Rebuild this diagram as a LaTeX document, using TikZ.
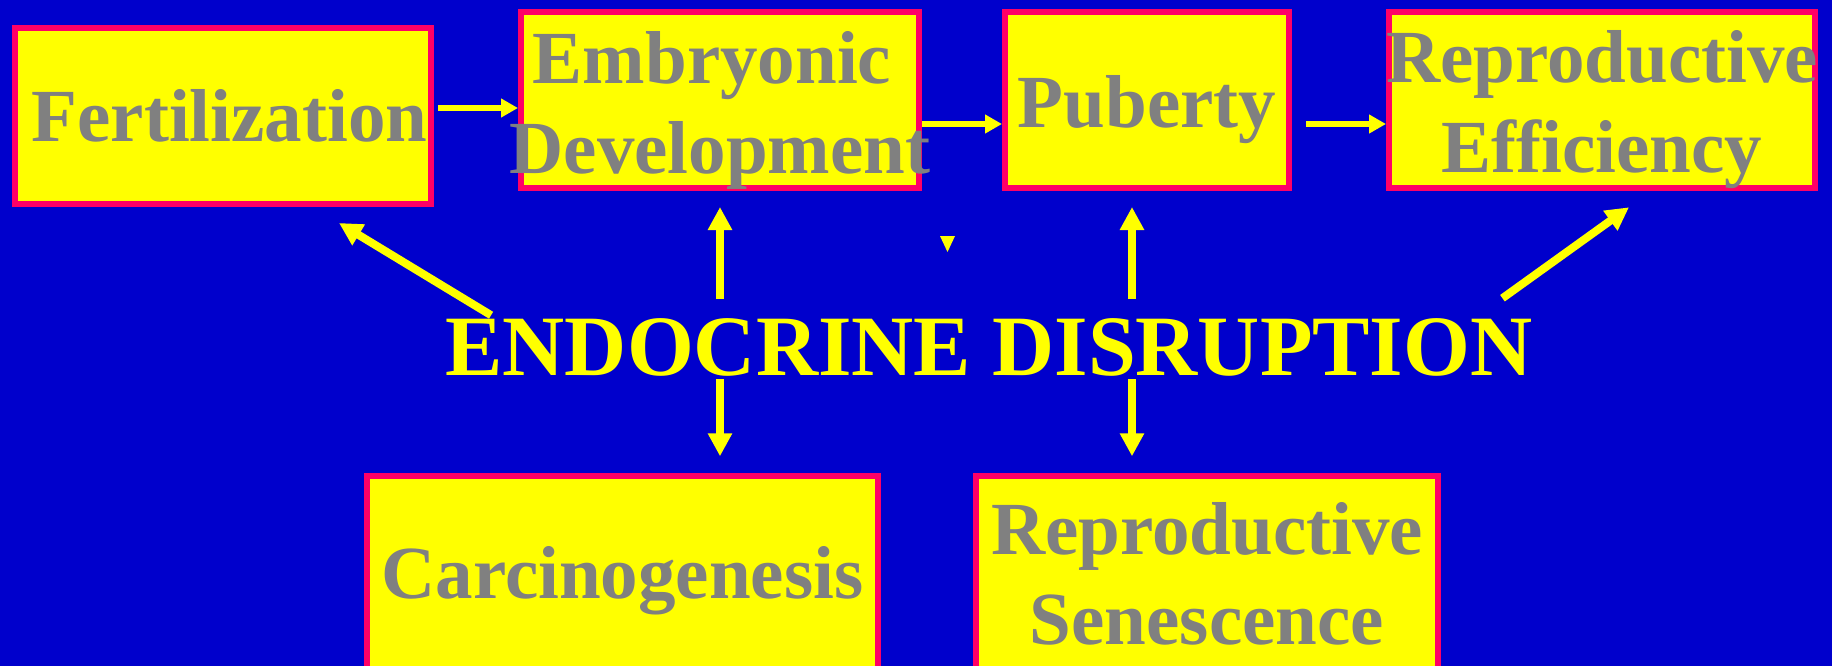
\documentclass[tikz,border=0pt]{standalone}
\usepackage{fontspec}
\setmainfont{Liberation Serif}
\usetikzlibrary{arrows.meta}
\definecolor{slideblue}{RGB}{0,0,204}
\definecolor{boxrim}{RGB}{255,0,102}
\definecolor{boxfill}{RGB}{255,255,0}
\definecolor{boxtext}{RGB}{128,128,128}

\begin{document}
\begin{tikzpicture}[
    x=0.5pt, y=-0.5pt,
    stage/.style={rectangle, draw=boxrim, fill=boxfill, line width=3pt, inner sep=0pt, minimum height=88pt},
    stagetext/.style={text=boxtext, font=\fontsize{37.5}{45}\selectfont\bfseries, align=center, inner sep=0pt},
    flow/.style={draw=boxfill, line width=3.3pt, -{Triangle[length=8.5pt, width=9pt]}},
    effect/.style={draw=boxfill, line width=4pt, -{Triangle[length=11.5pt, width=11.5pt]}}
]
    % Background
    \useasboundingbox (0,0) rectangle (1832,665);
    \fill[slideblue] (-10,-10) rectangle (1842,675);
    % Top row (life stages)
    \node[stage, minimum width=208pt, label={[stagetext, xshift=3.25pt]center:Fertilization}] (fert) at (223,116) {};
    \node[stage, minimum width=199pt, label={[stagetext, yshift=-5pt]center:Embryonic\hspace*{8pt}\\Development}] (emb) at (720,100) {};
    \node[stage, minimum width=142pt, label={[stagetext, yshift=-4.75pt]center:Puberty}] (pub) at (1147,100) {};
    \node[stage, minimum width=213pt, label={[stagetext, yshift=-5pt]center:Reproductive\\Efficiency}] (eff) at (1602,100) {};
    % Bottom row
    \node[stage, minimum width=255.5pt, minimum height=98pt, label={[stagetext, yshift=-3.5pt]center:Carcinogenesis}] (carc) at (622.5,574) {};
    \node[stage, minimum width=231pt, minimum height=98pt, label={[stagetext]center:Reproductive\\Senescence}] (sen) at (1207,574) {};
    % Centre text
    \node[text=boxfill, font=\fontsize{43}{50}\selectfont\bfseries, inner sep=0pt] (ed) at (989,347) {ENDOCRINE DISRUPTION};
    % Flow along the top row
    \draw[flow, shorten <=2pt] ([yshift=4pt]fert.east) -- ([yshift=4pt]fert.east -| emb.west);
    \draw[flow] ([yshift=-12pt]emb.east) -- ([yshift=-12pt]emb.east -| pub.west);
    \draw[flow, shorten <=7pt] ([yshift=-12pt]pub.east) -- ([yshift=-12pt]pub.east -| eff.west);
    % Effects of disruption
    \draw[effect] ([shift={(46,-2.5)}]ed.north west) -- ([shift={(-95,16)}]fert.south east);
    \draw[effect, shorten <=9.25pt, shorten >=8pt] (ed.north -| emb.south) -- (emb.south);
    \draw[effect, shorten <=9.25pt, shorten >=8pt] ([xshift=-7.5pt]pub.south |- ed.north) -- ([xshift=-7.5pt]pub.south);
    \draw[effect] ([shift={(-30.5,-19.5)}]ed.north east) -- ([shift={(27,16.3)}]eff.south);
    \draw[effect, shorten <=1.5pt, shorten >=8.35pt] (ed.south -| emb.south) -- (emb.south |- carc.north);
    \draw[effect, shorten <=1.5pt, shorten >=8.35pt] ([xshift=-7.5pt]pub.south |- ed.south) -- ([xshift=-7.5pt]pub.south |- sen.north);
    % stray tip
    \fill[boxfill] (940,236) -- (955,236) -- (947.5,252) -- cycle;
\end{tikzpicture}
\end{document}
